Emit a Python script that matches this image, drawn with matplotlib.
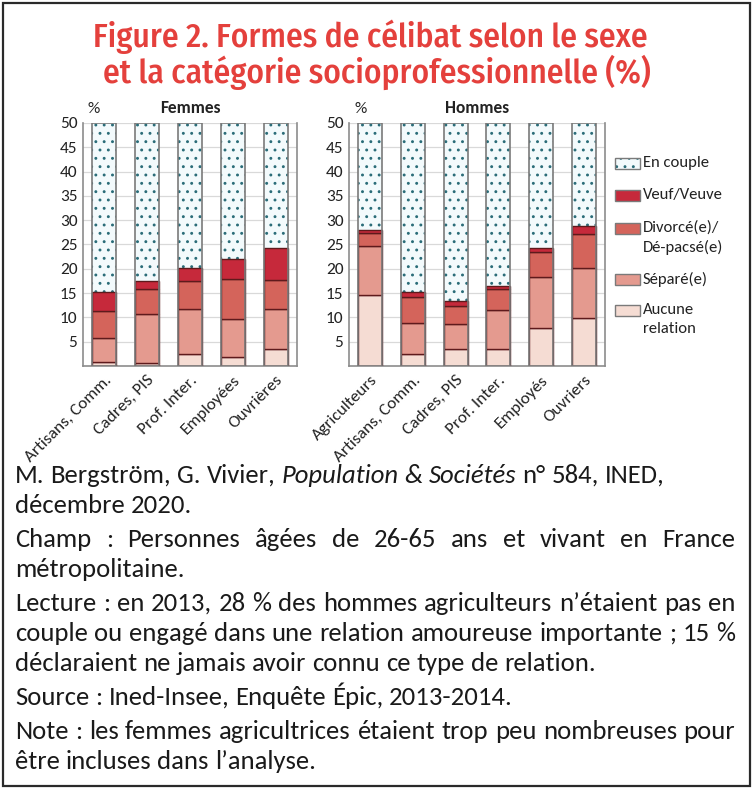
import numpy as np
import matplotlib
matplotlib.use('Agg')
import matplotlib.pyplot as plt
from matplotlib.patches import Rectangle

# - Données (en %)
CATEGORIES_FEMMES = ['Artisans, Comm.', 'Cadres, PIS', 'Prof. Inter.', 'Employées', 'Ouvrières']
aucune_femmes = [0.8, 0.7, 2.5, 1.9, 3.6]
separe_femmes = [5.0, 9.9, 9.2, 7.8, 8.1]
divorce_femmes = [5.6, 5.2, 5.7, 8.1, 5.9]
veuf_femmes = [3.8, 1.7, 2.8, 4.2, 6.7]

CATEGORIES_HOMMES = ['Agriculteurs', 'Artisans, Comm.', 'Cadres, PIS', 'Prof. Inter.', 'Employés', 'Ouvriers']
aucune_hommes = [14.7, 2.4, 3.4, 3.4, 7.8, 9.8]
separe_hommes = [9.9, 6.4, 5.3, 8.2, 10.6, 10.4]
divorce_hommes = [2.7, 5.5, 3.6, 4.2, 5.1, 6.9]
veuf_hommes = [0.6, 0.9, 1.0, 0.7, 0.8, 1.7]

Y_MAX = 50
Y_TICKS = [5, 10, 15, 20, 25, 30, 35, 40, 45, 50]

# - Couleurs
ROUGE_TITRE = '#e4403c'
COULEURS = {
    'Aucune relation': '#f5dcd3',
    'Séparé(e)': '#e49a8f',
    'Divorcé(e)/\nDé-pacsé(e)': '#d4645b',
    'Veuf/Veuve': '#c6293b',
}
FOND_COUPLE = '#f3fafc'
POINTS_COUPLE = '#2a6c78'
BORD_SEGMENT = '#5e1a1c'
BORD_BARRE = '#7a7a7a'
GRILLE = '#d9d9d9'
TEXTE = '#222222'

LARGEUR, HAUTEUR = 754, 789
POLICE = 'Carlito'
TAILLE_AXE = 12.5

plt.rcParams['font.family'] = [POLICE, 'DejaVu Sans']
plt.rcParams['hatch.linewidth'] = 0.9

fig = plt.figure(figsize=(LARGEUR / 100, HAUTEUR / 100), dpi=100)


def px_fig(x, y):
    # - Convertir des pixels (origine en haut à gauche) en coordonnées figure
    return x / LARGEUR, 1 - y / HAUTEUR


def axe_px(gauche, haut, droite, bas):
    return fig.add_axes([gauche / LARGEUR, 1 - bas / HAUTEUR,
                         (droite - gauche) / LARGEUR, (bas - haut) / HAUTEUR])


def graphique(ax, categories, aucune, separe, divorce, veuf, titre):
    x = np.arange(len(categories))
    largeur = 0.56
    series = [aucune, separe, divorce, veuf]
    noms = list(COULEURS.keys())

    cumul = np.zeros(len(categories))
    for nom, valeurs in zip(noms, series):
        ax.bar(x, valeurs, largeur, bottom=cumul, color=COULEURS[nom],
               edgecolor=BORD_SEGMENT, linewidth=1.0, zorder=3)
        cumul = cumul + np.array(valeurs)

    # - Partie "En couple", visible jusqu'au haut de l'axe
    ax.bar(x, Y_MAX - cumul, largeur, bottom=cumul, color=FOND_COUPLE,
           edgecolor=POINTS_COUPLE, linewidth=0, hatch='..', zorder=2)

    # - Contour gris de chaque barre
    ax.bar(x, [Y_MAX] * len(x), largeur, fill=False, edgecolor=BORD_BARRE,
           linewidth=1.2, zorder=4)

    ax.set_xlim(-0.5, len(categories) - 0.5)
    ax.set_ylim(0, Y_MAX)
    ax.set_yticks(Y_TICKS)
    ax.set_yticklabels([str(v) for v in Y_TICKS], fontsize=TAILLE_AXE, color=TEXTE)
    ax.set_xticks(x)
    ax.set_xticklabels(categories, rotation=45, ha='right', rotation_mode='anchor',
                       fontsize=TAILLE_AXE, color=TEXTE)
    ax.tick_params(axis='both', length=0, pad=4)
    ax.tick_params(axis='x', pad=5)

    ax.yaxis.grid(True, color=GRILLE, linewidth=0.9)
    ax.set_axisbelow(True)

    ax.spines['top'].set_visible(False)
    for cote in ['left', 'right', 'bottom']:
        ax.spines[cote].set_color('#8c8c8c')
        ax.spines[cote].set_linewidth(1.2)

    ax.text(0.02, 1.03, '%', transform=ax.transAxes, fontsize=TAILLE_AXE,
            ha='left', va='bottom', color=TEXTE)
    ax.text(0.5, 1.03, titre, transform=ax.transAxes, fontsize=TAILLE_AXE,
            fontweight='bold', ha='center', va='bottom', color=TEXTE)


ax_femmes = axe_px(83, 123, 297, 366)
graphique(ax_femmes, CATEGORIES_FEMMES, aucune_femmes, separe_femmes,
          divorce_femmes, veuf_femmes, 'Femmes')

ax_hommes = axe_px(349, 123, 605, 366)
graphique(ax_hommes, CATEGORIES_HOMMES, aucune_hommes, separe_hommes,
          divorce_hommes, veuf_hommes, 'Hommes')

# - Légende dessinée à la main (carrés + libellés)
legende = [
    ('En couple', 163, ['En couple']),
    ('Veuf/Veuve', 195, ['Veuf/Veuve']),
    ('Divorcé(e)/\nDé-pacsé(e)', 228, ['Divorcé(e)/', 'Dé-pacsé(e)']),
    ('Séparé(e)', 279, ['Séparé(e)']),
    ('Aucune relation', 310, ['Aucune', 'relation']),
]
for nom, y, lignes in legende:
    x0, y0 = px_fig(615, y + 5.5)
    w, h = 25 / LARGEUR, 11 / HAUTEUR
    if nom == 'En couple':
        fig.add_artist(Rectangle((x0, y0), w, h, transform=fig.transFigure,
                                 facecolor=FOND_COUPLE, edgecolor=POINTS_COUPLE,
                                 linewidth=0, hatch='..'))
    else:
        fig.add_artist(Rectangle((x0, y0), w, h, transform=fig.transFigure,
                                 facecolor=COULEURS[nom], edgecolor='none'))
    fig.add_artist(Rectangle((x0, y0), w, h, transform=fig.transFigure,
                             fill=False, edgecolor=BORD_BARRE, linewidth=1.0))
    for i, ligne_leg in enumerate(lignes):
        fig.text(*px_fig(643, y + i * 19), ligne_leg, fontsize=12, ha='left',
                 va='center', color=TEXTE)

# - Titre
POLICE_TITRE = ['Fira Sans Condensed', 'DejaVu Sans']
fig.text(*px_fig(370, 37), 'Figure 2. Formes de célibat selon le sexe',
         family=POLICE_TITRE, fontweight='medium',
         fontsize=24, color=ROUGE_TITRE, ha='center', va='center')
fig.text(*px_fig(377, 72), 'et la catégorie socioprofessionnelle (%)',
         family=POLICE_TITRE, fontweight='medium',
         fontsize=24, color=ROUGE_TITRE, ha='center', va='center')

# - Texte du bas (avec justification de certaines lignes)
renderer = fig.canvas.get_renderer()
MARGE_G, MARGE_D = 15, 735


def largeur_px(texte, style, taille):
    t = fig.text(0, 0, texte, fontsize=taille, style=style)
    larg = t.get_window_extent(renderer).width
    t.remove()
    return larg


# - Taille choisie pour que la ligne "couple ou engagé..." occupe presque toute la largeur
REFERENCE = 'couple ou engagé dans une relation amoureuse importante ; 15 %'
TAILLE_TEXTE = 18 * 712 / largeur_px(REFERENCE, 'normal', 18)
ESPACE = largeur_px('a a', 'normal', TAILLE_TEXTE) - largeur_px('aa', 'normal', TAILLE_TEXTE)


def ligne(y, morceaux, justifie=False):
    # - morceaux : liste de (texte, style) ; les mots sont séparés par des espaces
    mots = []
    for texte, style in morceaux:
        for m in texte.split(' '):
            if m:
                mots.append((m, style))
    largeurs = [largeur_px(m, s, TAILLE_TEXTE) for m, s in mots]
    if justifie and len(mots) > 1:
        espace = (MARGE_D - MARGE_G - sum(largeurs)) / (len(mots) - 1)
    else:
        espace = ESPACE
    x = MARGE_G
    for (m, s), lg in zip(mots, largeurs):
        fig.text(*px_fig(x, y), m, fontsize=TAILLE_TEXTE, style=s,
                 ha='left', va='baseline', color='#1a1a1a')
        x += lg + espace


# - Lignes de base (pixels depuis le haut) : interligne et écart entre paragraphes
INTERLIGNE, PARAGRAPHE = 30, 34
y = 483
ligne(y, [('M. Bergström, G. Vivier,', 'normal'), ('Population & Sociétés', 'italic'),
          ('n° 584, INED,', 'normal')])
y += INTERLIGNE
ligne(y, [('décembre 2020.', 'normal')])
y += PARAGRAPHE
ligne(y, [('Champ : Personnes âgées de 26-65 ans et vivant en France', 'normal')], True)
y += INTERLIGNE
ligne(y, [('métropolitaine.', 'normal')])
y += PARAGRAPHE
ligne(y, [('Lecture : en 2013, 28 % des hommes agriculteurs n’étaient pas en', 'normal')], True)
y += INTERLIGNE
ligne(y, [('couple ou engagé dans une relation amoureuse importante ; 15 %', 'normal')], True)
y += INTERLIGNE
ligne(y, [('déclaraient ne jamais avoir connu ce type de relation.', 'normal')])
y += PARAGRAPHE
ligne(y, [('Source : Ined-Insee, Enquête Épic, 2013-2014.', 'normal')])
y += PARAGRAPHE
ligne(y, [('Note : les femmes agricultrices étaient trop peu nombreuses pour', 'normal')], True)
y += INTERLIGNE
ligne(y, [('être incluses dans l’analyse.', 'normal')])

# - Cadre extérieur
fig.add_artist(Rectangle(px_fig(3, 786), 747 / LARGEUR, 783 / HAUTEUR,
                         transform=fig.transFigure, fill=False,
                         edgecolor='#2a2a2a', linewidth=1.6))

fig.savefig('out.png', dpi=100)
